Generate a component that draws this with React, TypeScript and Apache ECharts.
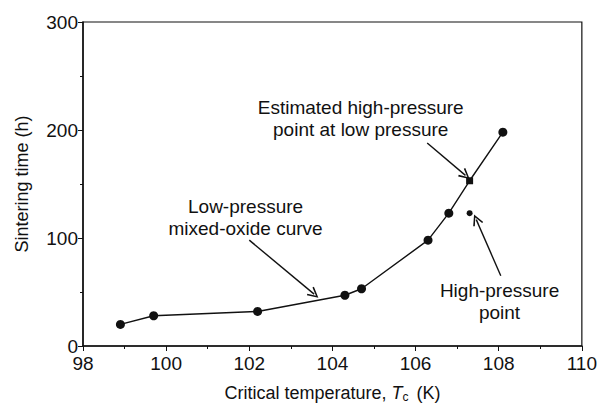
import React, { useEffect, useRef } from "react";
import * as echarts from "echarts";

const tempK = [98.9, 99.7, 102.2, 104.3, 104.7, 106.3, 106.8, 107.3, 108.1];
const sinterH = [20, 28, 32, 47, 53, 98, 123, 153, 198];
const estimatedIndex = 7;
const highPressureK = [107.3];
const highPressureH = [123];
const xTicks = [98, 100, 102, 104, 106, 108, 110];
const yTicks = [0, 100, 200, 300];

const arrows = [
  { from: [102.0, 98], to: [103.56, 48] },
  { from: [106.28, 188], to: [107.2, 158] },
  { from: [108.05, 65], to: [107.46, 117] },
];
const notes = [
  { text: "Low-pressure\nmixed-oxide curve", at: [101.91, 119] },
  { text: "Estimated high-pressure\npoint at low pressure", at: [104.68, 211] },
  { text: "High-pressure\npoint", at: [108.02, 41.5] },
];

const FONT = "'Liberation Sans', Arial, Helvetica, sans-serif";
const INK = "#111";

export default function App() {
  const ref = useRef<HTMLDivElement>(null);
  useEffect(() => {
    if (!ref.current) return;
    const chart = echarts.init(ref.current, undefined, { renderer: "svg" });
    const mainData = tempK.map((x, i) =>
      i === estimatedIndex
        ? { value: [x, sinterH[i]], symbol: "rect", symbolSize: 7 }
        : { value: [x, sinterH[i]], symbol: "circle", symbolSize: 9 }
    );
    chart.setOption({
      animation: false,
      textStyle: { fontFamily: FONT, color: INK },
      grid: {
        left: 83,
        right: 14,
        top: 22,
        bottom: 62,
        show: true,
        borderColor: INK,
        borderWidth: 1.2,
      },
      xAxis: {
        type: "value",
        min: xTicks[0],
        max: xTicks[xTicks.length - 1],
        interval: 2,
        axisLine: { lineStyle: { color: INK, width: 1.5 } },
        axisTick: { show: true, length: 5, lineStyle: { color: INK } },
        minorTick: { show: true, splitNumber: 2, length: 3, lineStyle: { color: INK } },
        splitLine: { show: false },
        axisLabel: { fontSize: 19, color: INK, fontFamily: FONT, margin: 8 },
        name: "Critical temperature, {i|T}{sub|c} (K)",
        nameLocation: "middle",
        nameGap: 37,
        nameTextStyle: {
          fontSize: 18,
          color: INK,
          fontFamily: FONT,
          rich: {
            i: { fontSize: 18, fontStyle: "italic", color: INK, fontFamily: FONT },
            sub: { fontSize: 12, color: INK, fontFamily: FONT, verticalAlign: "bottom", padding: [8, 3, 0, 0] },
          },
        },
      },
      yAxis: {
        type: "value",
        min: yTicks[0],
        max: yTicks[yTicks.length - 1],
        interval: 100,
        axisLine: { show: true, lineStyle: { color: INK, width: 1.5 } },
        axisTick: { show: true, length: 5, lineStyle: { color: INK } },
        minorTick: { show: true, splitNumber: 2, length: 3, lineStyle: { color: INK } },
        splitLine: { show: false },
        axisLabel: { fontSize: 19, color: INK, fontFamily: FONT, margin: 5 },
        name: "Sintering time (h)",
        nameLocation: "middle",
        nameRotate: 90,
        nameGap: 52,
        nameTextStyle: { fontSize: 18, color: INK, fontFamily: FONT },
      },
      series: [
        {
          type: "line",
          data: mainData,
          lineStyle: { color: INK, width: 1.4 },
          itemStyle: { color: INK },
          showAllSymbol: true,
        },
        {
          type: "scatter",
          data: highPressureK.map((x, i) => [x, highPressureH[i]]),
          symbol: "circle",
          symbolSize: 6,
          itemStyle: { color: INK, opacity: 1 },
        },
        {
          type: "lines",
          coordinateSystem: "cartesian2d",
          polyline: false,
          symbol: ["none", "path://M0,10 L5,0 L10,10 L8.6,10.6 L5,3 L1.4,10.6 Z"],
          symbolSize: [10, 11],
          lineStyle: { color: INK, width: 1.4, opacity: 1 },
          data: arrows.map((a) => ({ coords: [a.from, a.to] })),
          silent: true,
        },
      ],
    });
    const graphics = notes.map((n) => {
      const p = chart.convertToPixel({ gridIndex: 0 }, n.at) as number[];
      return {
        type: "text",
        x: p[0],
        y: p[1],
        style: {
          text: n.text,
          fontSize: 19,
          fontFamily: FONT,
          fill: INK,
          align: "center",
          verticalAlign: "middle",
          lineHeight: 22,
        },
      };
    });
    chart.setOption({ graphic: graphics });
    return () => chart.dispose();
  }, []);
  return <div ref={ref} style={{ width: 600, height: 408, position: "absolute", left: 0, top: 0, background: "#fff" }} />;
}
